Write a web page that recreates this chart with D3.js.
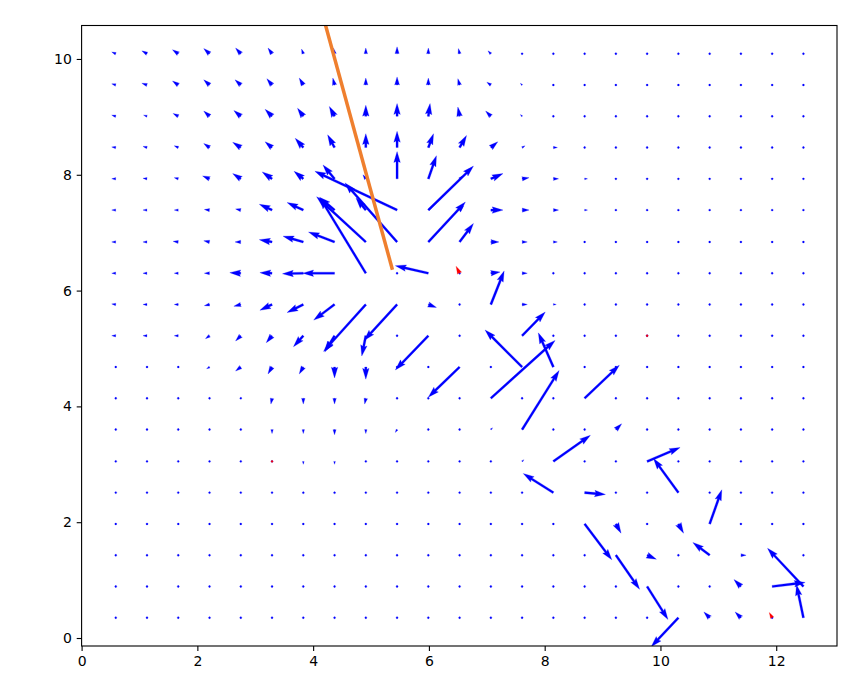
<!DOCTYPE html>
<html>
<head>
<meta charset="utf-8">
<script src="https://cdn.jsdelivr.net/npm/d3@7"></script>
<style>
  body { margin: 0; background: #fff; }
  svg { display: block; }
  .tick text { font-family: "DejaVu Sans", sans-serif; font-size: 14px; fill: #000; }
</style>
</head>
<body>
<div id="chart"></div>
<script>
// grid positions of the arrow tails
const gridX = [0.59, 1.13, 1.67, 2.21, 2.75, 3.29, 3.83, 4.37, 4.91, 5.45, 5.99, 6.53,
  7.07, 7.61, 8.15, 8.69, 9.23, 9.77, 10.31, 10.85, 11.39, 11.93, 12.47];
// rows listed top to bottom
const gridY = [10.09, 9.55, 9.01, 8.47, 7.93, 7.39, 6.84, 6.30, 5.76, 5.22, 4.68,
  4.14, 3.60, 3.05, 2.51, 1.97, 1.43, 0.89, 0.35];

// vector components (data units), one row per gridY entry
const U = [
  [-.07,-.09,-.10,-.10,-.09,-.07,-.03,-.02,0,0,0,-.02,-.05,-.02,0,0,0,0,0,0,0,0,0],
  [-.07,-.09,-.10,-.10,-.10,-.09,-.07,-.03,0,0,0,-.03,-.07,-.03,0,0,0,0,0,0,0,0,0],
  [-.07,-.06,-.09,-.10,-.12,-.12,-.10,-.09,0,0,.03,-.03,-.09,-.03,0,0,0,0,0,0,0,0,0],
  [-.07,-.07,-.07,-.10,-.14,-.12,-.14,-.12,0,0,.09,.12,.12,.05,.07,.03,0,0,0,0,0,0,0],
  [-.07,-.07,-.07,-.12,-.14,-.17,-.16,-.20,-.05,0,.14,.05,.21,.12,.09,.05,0,0,0,0,0,0,0],
  [-.07,-.07,-.07,-.09,-.09,-.22,-.28,-.26,-.17,-1.42,.78,.07,.21,.12,.09,.05,0,0,0,0,0,0,0],
  [-.07,-.07,-.09,-.10,-.10,-.22,-.35,-.45,-.85,-.90,.64,.24,.14,.09,.07,.03,0,0,0,0,0,0,0],
  [-.07,-.07,-.07,-.09,-.19,-.21,-.36,-.55,-.79,0,-.57,0,.16,.09,.03,0,0,0,0,0,0,0,0],
  [-.07,-.07,-.07,-.09,-.12,-.21,-.28,-.36,-.73,-.57,.14,0,.23,.09,.05,0,0,0,0,0,0,0,0],
  [-.07,-.07,-.07,-.07,-.09,-.10,-.17,-.17,-.07,0,-.57,0,0,.40,0,0,0,0,0,0,0,0,0],
  [0,-.02,-.02,-.05,-.09,-.07,-.07,0,0,0,0,-.54,0,-.64,-.26,0,0,0,0,0,0,0,0],
  [0,0,0,0,-.02,-.02,0,0,-.02,0,0,0,1.11,0,0,.60,0,0,0,0,0,0,0],
  [0,0,0,0,0,0,0,0,0,-.03,0,0,.03,.64,0,0,.10,0,0,0,0,0,0],
  [0,0,0,0,0,0,0,0,0,0,0,0,0,.03,.64,0,0,.57,0,0,0,0,0],
  [0,0,0,0,0,0,0,0,0,0,0,0,0,0,-.52,.36,0,0,-.43,0,0,0,0],
  [0,0,0,0,0,0,0,0,0,0,0,0,0,0,0,.47,.09,0,.09,.21,0,0,0],
  [0,0,0,0,0,0,0,0,0,0,0,0,0,0,0,0,.41,.16,0,-.29,.09,0,0],
  [0,0,0,0,0,0,0,0,0,0,0,0,0,0,0,0,0,.36,0,0,-.12,.57,-.62],
  [0,0,0,0,0,0,0,0,0,0,0,0,0,0,0,0,0,0,-.47,-.10,-.10,0,-.12]
];
const V = [
  [.03,.05,.07,.09,.10,.10,.08,.10,.10,.12,.10,.09,.05,.02,0,0,0,0,0,0,0,0,0],
  [.02,.03,.07,.09,.09,.11,.12,.12,.12,.14,.12,.11,.05,.03,0,0,0,0,0,0,0,0,0],
  [.02,.02,.05,.09,.10,.12,.14,.17,.19,.22,.22,.16,.09,.03,0,0,0,0,0,0,0,0,0],
  [.01,.02,.03,.07,.09,.10,.16,.22,.24,.28,.24,.21,.10,.03,0,0,0,0,0,0,0,0,0],
  [0,.01,.02,.05,.09,.12,.13,.24,.07,.47,.40,.05,.09,.02,0,0,0,0,0,0,0,0,0],
  [0,0,0,.01,.02,.10,.13,.22,.21,.67,.76,.07,0,0,0,0,0,0,0,0,0,0,0],
  [0,0,.01,.02,0,.04,.10,.17,.78,1.02,.69,.32,0,0,0,0,0,0,0,0,0,0,0],
  [0,0,0,0,.01,.01,-.01,0,1.30,0,.13,0,.02,0,0,0,0,0,0,0,0,0,0],
  [.01,0,0,-.02,-.03,-.10,-.14,-.27,-.81,-.62,-.05,0,.58,0,0,0,0,0,0,0,0,0,0],
  [0,0,0,-.05,-.09,-.12,-.19,-.28,-.35,0,-.59,0,0,.41,0,0,0,0,0,0,0,0,0],
  [0,0,0,-.03,-.07,-.12,-.12,-.19,-.21,0,0,-.52,0,.64,.59,0,0,0,0,0,0,0,0],
  [0,0,0,0,-.02,-.10,-.10,-.10,-.10,0,0,0,1.00,0,0,.57,0,0,0,0,0,0,0],
  [0,0,0,0,0,-.07,-.07,-.09,-.07,-.05,0,0,.03,1.02,0,0,.10,0,0,0,0,0,0],
  [0,0,0,0,0,0,-.05,-.05,0,0,0,0,0,.03,.45,0,0,.24,0,0,0,0,0],
  [0,0,0,0,0,0,-.03,-.03,0,0,0,0,0,0,.33,-.03,0,0,.59,0,0,0,0],
  [0,0,0,0,0,0,0,0,0,0,0,0,0,0,0,-.62,-.16,0,-.16,.59,0,0,0],
  [0,0,0,0,0,0,0,0,0,0,0,0,0,0,0,0,-.59,-.07,0,.22,0,0,0],
  [0,0,0,0,0,0,0,0,0,0,0,0,0,0,0,0,0,-.57,0,0,.12,.07,.66],
  [0,0,0,0,0,0,0,0,0,0,0,0,0,0,0,0,0,0,-.50,.10,.10,0,.57]
];

// second (red) field, only a few points
const redX = [6.53, 9.77, 3.29, 11.93];
const redY = [6.30, 5.22, 3.05, 0.35];
const redU = [-.06, 0, 0, -.05];
const redV = [.12, 0, 0, .09];

// the orange segment
const lineX = [5.37, 4.10];
const lineY = [6.36, 11.0];

const xTicks = [0, 2, 4, 6, 8, 10, 12];
const yTicks = [0, 2, 4, 6, 8, 10];

const width = 855, height = 677;
const margin = { top: 25.5, right: 18, bottom: 31, left: 81.6 };

const svg = d3.select("#chart").append("svg")
  .attr("width", width)
  .attr("height", height)
  .attr("viewBox", [0, 0, width, height]);

svg.append("rect").attr("width", width).attr("height", height).attr("fill", "#fff");

const x = d3.scaleLinear().domain([0, 13.05]).range([margin.left, width - margin.right]);
const y = d3.scaleLinear().domain([-0.138, 10.578]).range([height - margin.bottom, margin.top]);

svg.append("clipPath").attr("id", "clip")
  .append("rect")
  .attr("x", margin.left).attr("y", margin.top)
  .attr("width", x.range()[1] - margin.left)
  .attr("height", y.range()[0] - margin.top);

// matplotlib-like quiver arrow polygon, tail pivot
const shaftW = 2.17;
function arrowPath(x0, y0, x1, y1) {
  const px = x(x0), py = y(y0);
  const dx = x(x1) - px, dy = y(y1) - py;
  const len = Math.hypot(dx, dy) / shaftW;
  let pts;
  if (len < 1) {
    pts = d3.range(6).map((k) => [0.5 * Math.cos(k * Math.PI / 3), 0.5 * Math.sin(k * Math.PI / 3)]);
  } else if (len < 5) {
    const s = len / 5;
    pts = [[0, .5], [.5, .5], [0, 1.5], [5, 0], [0, -1.5], [.5, -.5], [0, -.5]]
      .map(([a, b]) => [a * s, b * s]);
  } else {
    pts = [[0, .5], [len - 4.5, .5], [len - 5, 1.5], [len, 0], [len - 5, -1.5], [len - 4.5, -.5], [0, -.5]];
  }
  const ang = Math.atan2(dy, dx);
  const c = Math.cos(ang), s = Math.sin(ang);
  return "M" + pts.map(([a, b]) => [
    (px + (a * c - b * s) * shaftW).toFixed(2),
    (py + (a * s + b * c) * shaftW).toFixed(2)
  ].join(",")).join("L") + "Z";
}

const blue = [];
gridY.forEach((gy, j) => {
  gridX.forEach((gx, i) => {
    blue.push({ x: gx, y: gy, u: U[j][i], v: V[j][i] });
  });
});
const red = redX.map((rx, i) => ({ x: rx, y: redY[i], u: redU[i], v: redV[i] }));

const plot = svg.append("g").attr("clip-path", "url(#clip)");

plot.append("g")
  .selectAll("path")
  .data(blue)
  .join("path")
  .attr("d", (d) => arrowPath(d.x, d.y, d.x + d.u, d.y + d.v))
  .attr("fill", "#0000ff")
  .attr("stroke", "#0000ff")
  .attr("stroke-width", 0.25);

plot.append("g")
  .selectAll("path")
  .data(red)
  .join("path")
  .attr("d", (d) => arrowPath(d.x, d.y, d.x + d.u, d.y + d.v))
  .attr("fill", "#ff0000")
  .attr("stroke", "#ff0000")
  .attr("stroke-width", 0.25);

const line = d3.line().x((d) => x(d[0])).y((d) => y(d[1]));
plot.append("path")
  .datum(lineX.map((lx, i) => [lx, lineY[i]]))
  .attr("d", line)
  .attr("fill", "none")
  .attr("stroke", "#ef7f2e")
  .attr("stroke-width", 3.5)
  .attr("stroke-linecap", "butt");

// axes
const xAxis = svg.append("g")
  .attr("transform", `translate(0,${y.range()[0]})`)
  .call(d3.axisBottom(x).tickValues(xTicks).tickFormat(d3.format("d")).tickSize(4.9).tickSizeOuter(0).tickPadding(4.9));
const yAxis = svg.append("g")
  .attr("transform", `translate(${margin.left},0)`)
  .call(d3.axisLeft(y).tickValues(yTicks).tickFormat(d3.format("d")).tickSize(4.9).tickSizeOuter(0).tickPadding(4.9));
[xAxis, yAxis].forEach((g) => {
  g.select(".domain").remove();
  g.selectAll(".tick line").attr("stroke", "#000").attr("stroke-width", 1.1);
});

svg.append("rect")
  .attr("x", margin.left).attr("y", margin.top)
  .attr("width", x.range()[1] - margin.left)
  .attr("height", y.range()[0] - margin.top)
  .attr("fill", "none")
  .attr("stroke", "#000")
  .attr("stroke-width", 1.1);
</script>
</body>
</html>
